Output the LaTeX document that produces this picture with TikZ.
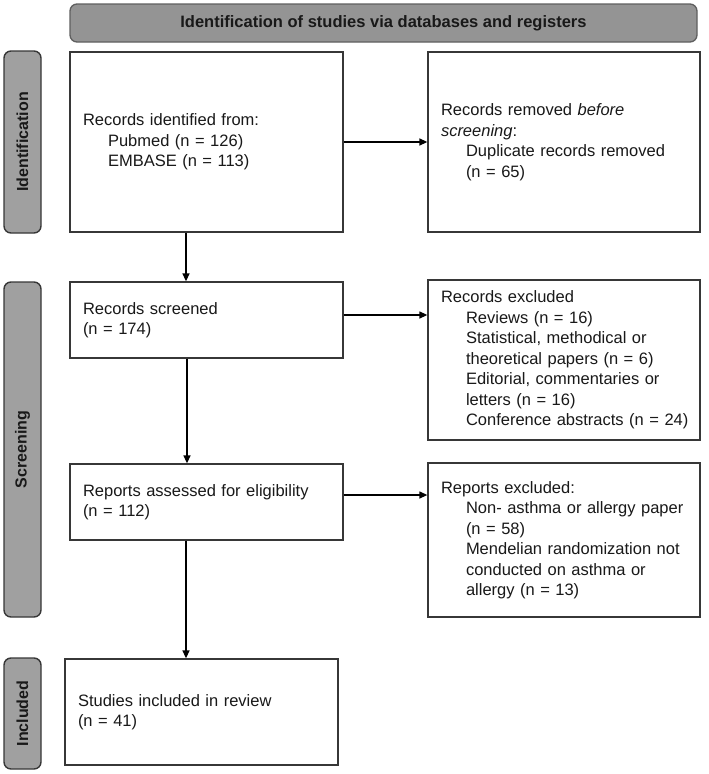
\documentclass[tikz,border=0pt]{standalone}
\usepackage{fontspec}
\setmainfont{Liberation Sans}
\usetikzlibrary{arrows.meta}
\definecolor{sidegray}{RGB}{160,160,160}
\definecolor{hdrgray}{RGB}{148,148,148}
\definecolor{edge}{RGB}{55,55,55}
\newcommand{\ind}{\hspace*{25pt}}
\begin{document}
\begin{tikzpicture}[x=1pt,y=-1pt,
  every node/.style={font=\fontsize{16.5}{20.5}\selectfont, text=black!90},
  box/.style={draw=edge, line width=1.3pt, fill=white, inner xsep=13pt, inner ysep=4pt, align=left},
  sidebar/.style={draw=edge, line width=1.4pt, fill=sidegray, rounded corners=7pt, minimum width=37pt, inner sep=0pt},
  sidelabel/.style={rotate=90, font=\fontsize{16}{19}\selectfont\bfseries},
  hdrbox/.style={draw=edge!80, line width=1.3pt, fill=hdrgray, rounded corners=7pt, minimum width=627pt, minimum height=38pt, font=\fontsize{16.5}{19}\selectfont\bfseries},
  flow/.style={line width=1.3pt, draw=black, -{Triangle[length=8pt,width=7pt]}}]
\path[use as bounding box] (0,0) rectangle (709,774);

% header
\node[hdrbox] (hdr) at (383.5,23) {Identification of studies via databases and registers};

% side bars
\node[sidebar, minimum height=182pt] (sideI) at (22.5,142) {};
\node[sidelabel] (sideIt) at (sideI.center) {Identification};
\node[sidebar, minimum height=335pt] (sideS) at (22.5,449.5) {};
\node[sidelabel] (sideSt) at (sideS.center) {Screening};
\node[sidebar, minimum height=111pt] (sideC) at (22.5,713.5) {};
\node[sidelabel] (sideCt) at (sideC.center) {Included};

% boxes
\node[box, text width=247pt, minimum height=180pt] (idf) at (206.5,142)
  {Records identified from:\\ \ind Pubmed (n = 126)\\ \ind EMBASE (n = 113)};
\node[box, text width=246pt, minimum height=180pt] (rem) at (564,142)
  {Records removed \textit{before}\\ \textit{screening}:\\ \ind Duplicate records removed\\ \ind (n = 65)};
\node[box, text width=247pt, minimum height=76pt] (scr) at (206.5,320)
  {Records screened\\ (n = 174)};
\node[box, text width=246pt, minimum height=160pt] (exc) at (564,360)
  {Records excluded\\ \ind Reviews (n = 16)\\ \ind Statistical, methodical or\\ \ind theoretical papers (n = 6)\\ \ind Editorial, commentaries or\\ \ind letters (n = 16)\\ \ind\mbox{Conference abstracts (n = 24)}\hss};
\node[box, text width=247pt, minimum height=76pt] (rep) at (206.5,502)
  {Reports assessed for eligibility\\ (n = 112)};
\node[box, text width=246pt, minimum height=154pt] (repx) at (564,540)
  {Reports excluded:\\ \ind Non- asthma or allergy paper\\ \ind (n = 58)\\ \ind Mendelian randomization not\\ \ind conducted on asthma or\\ \ind allergy (n = 13)};
\node[box, text width=247pt, minimum height=106pt] (inc) at (201.5,712)
  {Studies included in review\\ (n = 41)};

% connectors
\draw[flow] (idf.east) -- (idf.east -| rem.west);
\draw[flow] ([yshift=5pt]scr.east) -- ([yshift=5pt]scr.east -| exc.west);
\draw[flow] ([yshift=7pt]rep.east) -- ([yshift=7pt]rep.east -| repx.west);
\draw[flow] ([xshift=-20.5pt]idf.south) -- ([xshift=-20.5pt]idf.south |- scr.north);
\draw[flow] ([xshift=-19.5pt]scr.south) -- ([xshift=-19.5pt]scr.south |- rep.north);
\draw[flow] ([xshift=-20.5pt]rep.south) -- ([xshift=-20.5pt]rep.south |- inc.north);
\end{tikzpicture}
\end{document}
